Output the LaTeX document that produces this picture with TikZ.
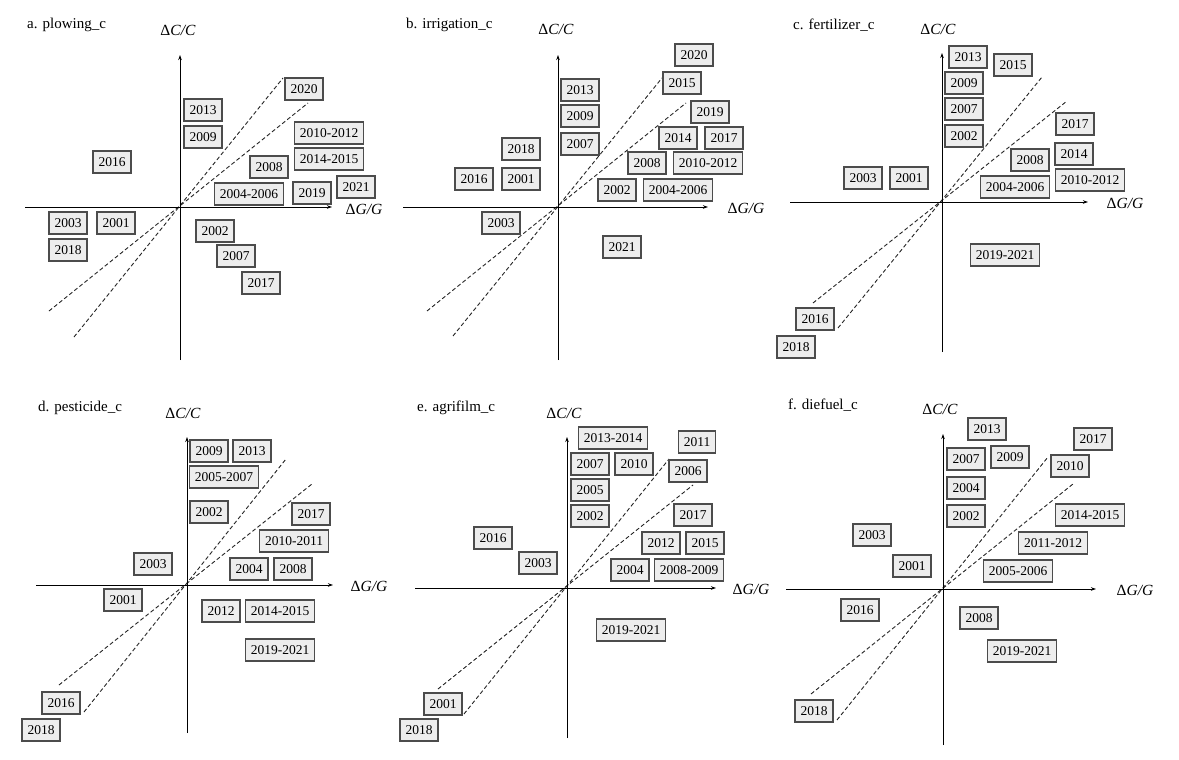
\documentclass[tikz,border=0pt]{standalone}
\usepackage{fontspec}
\setmainfont{Liberation Serif}
\usetikzlibrary{arrows.meta}
\newcommand\yrbox[3]{\node[yr] (#1) at (#2) {#3};}
\begin{document}
\begin{tikzpicture}[x=1pt,y=-1pt,
  yr/.style={draw=black!70, fill=black!7, line width=1.1pt, font=\fontsize{13.5}{14}\selectfont, inner xsep=5.5pt, inner ysep=0pt, minimum height=22pt, text height=9.3pt, text depth=0pt},
  axis/.style={line width=1pt, -{Stealth[length=5pt,width=3.5pt]}},
  guide/.style={dash pattern=on 4pt off 2.5pt, line width=0.9pt, black!85},
  ttl/.style={anchor=west, inner sep=0pt, font=\fontsize{15}{16}\selectfont},
  axl/.style={inner sep=0pt, font=\fontsize{15.5}{16}\selectfont}]
\useasboundingbox[fill=white] (0,0) rectangle (1179,760);

% ---------- panel a ----------
\coordinate (aYb) at (180,360); \coordinate (aYt) at (180,55);
\coordinate (aXl) at (25,207); \coordinate (aXr) at (332,207);
\coordinate (aS1) at (49,311); \coordinate (aS2) at (308,103);
\coordinate (aT1) at (74,337); \coordinate (aT2) at (283,78);
\draw[guide] (aS1) -- (aS2); \draw[guide] (aT1) -- (aT2);
\draw[axis] (aYb) -- (aYt); \draw[axis] (aXl) -- (aXr);
\node[ttl] (aTitle) at (27,25) {a. plowing\_c};
\node[axl] (aCC) at (178,30) {Δ\textit{C/C}};
\node[axl] (aGG) at (364,209) {Δ\textit{G/G}};
\yrbox{a2020}{304,89}{2020}
\yrbox{a2013}{203,110}{2013}
\yrbox{a2009}{203,137}{2009}
\yrbox{a2010}{329,133}{2010-2012}
\yrbox{a2014}{329,159}{2014-2015}
\yrbox{a2016}{112,162}{2016}
\yrbox{a2008}{269,167}{2008}
\yrbox{a2004}{249,194}{2004-2006}
\yrbox{a2019}{312,193}{2019}
\yrbox{a2021}{356,187}{2021}
\yrbox{a2003}{68,223}{2003}
\yrbox{a2001}{116,223}{2001}
\yrbox{a2018}{68,250}{2018}
\yrbox{a2002}{215,231}{2002}
\yrbox{a2007}{236,256}{2007}
\yrbox{a2017}{261,283}{2017}

% ---------- panel b ----------
\coordinate (bYb) at (558,360); \coordinate (bYt) at (558,55);
\coordinate (bXl) at (403,207); \coordinate (bXr) at (708,207);
\coordinate (bS1) at (427,311); \coordinate (bS2) at (686,103);
\coordinate (bT1) at (453,336); \coordinate (bT2) at (662,78);
\draw[guide] (bS1) -- (bS2); \draw[guide] (bT1) -- (bT2);
\draw[axis] (bYb) -- (bYt); \draw[axis] (bXl) -- (bXr);
\node[ttl] (bTitle) at (406,25) {b. irrigation\_c};
\node[axl] (bCC) at (556,29) {Δ\textit{C/C}};
\node[axl] (bGG) at (746,208) {Δ\textit{G/G}};
\yrbox{b2020}{694,55}{2020}
\yrbox{b2015}{682,83}{2015}
\yrbox{b2013}{580,90}{2013}
\yrbox{b2009}{580,116}{2009}
\yrbox{b2007}{580,144}{2007}
\yrbox{b2019}{710,112}{2019}
\yrbox{b2014}{678,138}{2014}
\yrbox{b2017}{724,138}{2017}
\yrbox{b2018}{521,149}{2018}
\yrbox{b2008}{647,163}{2008}
\yrbox{b2010}{708,163}{2010-2012}
\yrbox{b2016}{474,179}{2016}
\yrbox{b2001}{521,179}{2001}
\yrbox{b2002}{617,190}{2002}
\yrbox{b2004}{678,190}{2004-2006}
\yrbox{b2003}{501,223}{2003}
\yrbox{b2021}{622,247}{2021}

% ---------- panel c ----------
\coordinate (cYb) at (942,352); \coordinate (cYt) at (942,53);
\coordinate (cXl) at (790,202); \coordinate (cXr) at (1088,202);
\coordinate (cS1) at (813,303); \coordinate (cS2) at (1067,101);
\coordinate (cT1) at (838,328); \coordinate (cT2) at (1042,77);
\draw[guide] (cS1) -- (cS2); \draw[guide] (cT1) -- (cT2);
\draw[axis] (cYb) -- (cYt); \draw[axis] (cXl) -- (cXr);
\node[ttl] (cTitle) at (793,25) {c. fertilizer\_c};
\node[axl] (cCC) at (938,29) {Δ\textit{C/C}};
\node[axl] (cGG) at (1125,203) {Δ\textit{G/G}};
\yrbox{c2013}{968,57}{2013}
\yrbox{c2015}{1013,65}{2015}
\yrbox{c2009}{964,83}{2009}
\yrbox{c2007}{964,109}{2007}
\yrbox{c2002}{964,136}{2002}
\yrbox{c2017}{1075,124}{2017}
\yrbox{c2008}{1030,160}{2008}
\yrbox{c2014}{1074,154}{2014}
\yrbox{c2003}{863,178}{2003}
\yrbox{c2001}{909,178}{2001}
\yrbox{c2004}{1015,187}{2004-2006}
\yrbox{c2010}{1090,180}{2010-2012}
\yrbox{c2019}{1005,255}{2019-2021}
\yrbox{c2016}{815,319}{2016}
\yrbox{c2018}{796,347}{2018}

% ---------- panel d ----------
\coordinate (dYb) at (187,733); \coordinate (dYt) at (187,437);
\coordinate (dXl) at (36,585); \coordinate (dXr) at (333,585);
\coordinate (dS1) at (59,685); \coordinate (dS2) at (312,484);
\coordinate (dT1) at (84,712); \coordinate (dT2) at (286,459);
\draw[guide] (dS1) -- (dS2); \draw[guide] (dT1) -- (dT2);
\draw[axis] (dYb) -- (dYt); \draw[axis] (dXl) -- (dXr);
\node[ttl] (dTitle) at (38,408) {d. pesticide\_c};
\node[axl] (dCC) at (183,413) {Δ\textit{C/C}};
\node[axl] (dGG) at (369,586) {Δ\textit{G/G}};
\yrbox{d2009}{209,451}{2009}
\yrbox{d2013}{252,451}{2013}
\yrbox{d2005}{224,477}{2005-2007}
\yrbox{d2002}{209,512}{2002}
\yrbox{d2017}{311,514}{2017}
\yrbox{d2010}{294,541}{2010-2011}
\yrbox{d2003}{153,564}{2003}
\yrbox{d2004}{249,569}{2004}
\yrbox{d2008}{293,569}{2008}
\yrbox{d2001}{123,600}{2001}
\yrbox{d2012}{221,611}{2012}
\yrbox{d2014}{280,611}{2014-2015}
\yrbox{d2019}{280,650}{2019-2021}
\yrbox{d2016}{61,703}{2016}
\yrbox{d2018}{41,730}{2018}

% ---------- panel e ----------
\coordinate (eYb) at (567,738); \coordinate (eYt) at (567,437);
\coordinate (eXl) at (415,588); \coordinate (eXr) at (716,588);
\coordinate (eS1) at (438,689); \coordinate (eS2) at (693,485);
\coordinate (eT1) at (464,714); \coordinate (eT2) at (669,459);
\draw[guide] (eS1) -- (eS2); \draw[guide] (eT1) -- (eT2);
\draw[axis] (eYb) -- (eYt); \draw[axis] (eXl) -- (eXr);
\node[ttl] (eTitle) at (417,408) {e. agrifilm\_c};
\node[axl] (eCC) at (564,413) {Δ\textit{C/C}};
\node[axl] (eGG) at (751,589) {Δ\textit{G/G}};
\yrbox{e2013}{613,438}{2013-2014}
\yrbox{e2011}{697,442}{2011}
\yrbox{e2007}{590,464}{2007}
\yrbox{e2010}{634,464}{2010}
\yrbox{e2006}{688,471}{2006}
\yrbox{e2005}{590,490}{2005}
\yrbox{e2002}{590,516}{2002}
\yrbox{e2017}{693,515}{2017}
\yrbox{e2016}{493,538}{2016}
\yrbox{e2012}{661,543}{2012}
\yrbox{e2015}{705,543}{2015}
\yrbox{e2003}{538,563}{2003}
\yrbox{e2004}{630,570}{2004}
\yrbox{e2008}{689,570}{2008-2009}
\yrbox{e2019}{631,630}{2019-2021}
\yrbox{e2001}{443,704}{2001}
\yrbox{e2018}{419,730}{2018}

% ---------- panel f ----------
\coordinate (fYb) at (943,745); \coordinate (fYt) at (943,434);
\coordinate (fXl) at (786,589); \coordinate (fXr) at (1096,589);
\coordinate (fS1) at (811,694); \coordinate (fS2) at (1073,484);
\coordinate (fT1) at (837,720); \coordinate (fT2) at (1048,457);
\draw[guide] (fS1) -- (fS2); \draw[guide] (fT1) -- (fT2);
\draw[axis] (fYb) -- (fYt); \draw[axis] (fXl) -- (fXr);
\node[ttl] (fTitle) at (788,405) {f. diefuel\_c};
\node[axl] (fCC) at (940,409) {Δ\textit{C/C}};
\node[axl] (fGG) at (1135,590) {Δ\textit{G/G}};
\yrbox{f2013}{987,429}{2013}
\yrbox{f2017}{1093,439}{2017}
\yrbox{f2007}{966,459}{2007}
\yrbox{f2009}{1010,457}{2009}
\yrbox{f2010}{1070,466}{2010}
\yrbox{f2004}{966,488}{2004}
\yrbox{f2002}{966,516}{2002}
\yrbox{f2014}{1090,515}{2014-2015}
\yrbox{f2003}{872,535}{2003}
\yrbox{f2011}{1053,543}{2011-2012}
\yrbox{f2001}{912,566}{2001}
\yrbox{f2005}{1018,571}{2005-2006}
\yrbox{f2016}{860,610}{2016}
\yrbox{f2008}{979,618}{2008}
\yrbox{f2019}{1022,651}{2019-2021}
\yrbox{f2018}{814,711}{2018}
\end{tikzpicture}
\end{document}
